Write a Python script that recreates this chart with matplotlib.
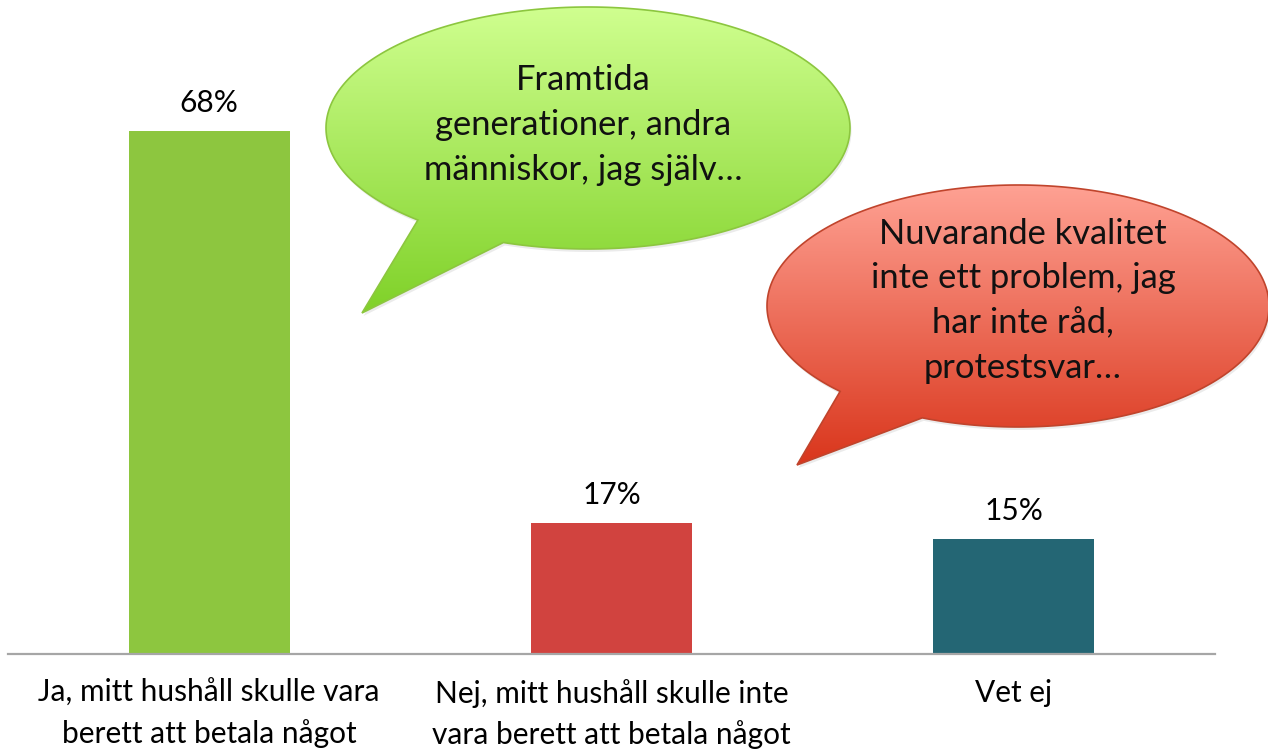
import numpy as np
import matplotlib
matplotlib.use("Agg")
import matplotlib.pyplot as plt
from matplotlib.path import Path
from matplotlib.patches import PathPatch
from matplotlib.colors import LinearSegmentedColormap

# ---- data ----
categories = ["Ja, mitt hushåll skulle vara\nberett att betala något",
              "Nej, mitt hushåll skulle inte\nvara berett att betala något",
              "Vet ej"]
values = [68, 17, 15]
value_labels = ["68%", "17%", "15%"]
bar_colors = ["#8dc63f", "#d1433f", "#246674"]
bubble_green_text = "Framtida\ngenerationer, andra\nmänniskor, jag själv…"
bubble_red_text = "Nuvarande kvalitet\ninte ett problem, jag\nhar inte råd,\nprotestsvar…"

plt.rcParams['font.family'] = ['Lato', 'DejaVu Sans']

W, H = 1268, 751
fig = plt.figure(figsize=(W / 100, H / 100), dpi=100)
fig.patch.set_facecolor("white")

ax = fig.add_axes([8 / W, (H - 654) / H, 1207 / W, 654 / H])
x = np.arange(len(categories))
ax.bar(x, values, width=0.4, color=bar_colors, zorder=2)
ax.set_xlim(-0.5, 2.5)
ax.set_ylim(0, 654 / 7.69)
for xi, v, lab in zip(x, values, value_labels):
    ax.annotate(lab, (xi, v), xytext=(0, 20), textcoords="offset points",
                ha="center", va="center", fontsize=21.5, color="#000000")
ax.set_xticks(x)
ax.set_xticklabels(categories, fontsize=21.5, linespacing=1.5)
ax.tick_params(axis="x", length=0, pad=18)
ax.set_yticks([])
for s in ["top", "right", "left"]:
    ax.spines[s].set_visible(False)
ax.spines["bottom"].set_color("#a6a6a6")
ax.spines["bottom"].set_linewidth(1.6)

# ---- overlay in pixel coordinates for speech bubbles ----
ov = fig.add_axes([0, 0, 1, 1], zorder=5)
ov.set_xlim(0, W)
ov.set_ylim(H, 0)
ov.axis("off")
ov.patch.set_alpha(0)


def bubble(cx, cy, rx, ry, p1, p2, tip, c_top, c_bot, edge):
    a1 = np.arctan2((p1[1] - cy) / ry, (p1[0] - cx) / rx)
    a2 = np.arctan2((p2[1] - cy) / ry, (p2[0] - cx) / rx)
    if a1 < a2:
        a1 += 2 * np.pi
    t = np.linspace(a2, a1, 300)
    pts = np.column_stack([cx + rx * np.cos(t), cy + ry * np.sin(t)])
    pts = np.vstack([pts, [tip], pts[:1]])
    codes = [Path.MOVETO] + [Path.LINETO] * (len(pts) - 2) + [Path.CLOSEPOLY]
    path = Path(pts, codes)
    # soft shadow
    sh = Path(path.vertices + np.array([1.5, 3.0]), path.codes)
    ov.add_patch(PathPatch(sh, facecolor="#000000", alpha=0.08,
                           edgecolor="none", zorder=1))
    patch = PathPatch(path, facecolor="none", edgecolor=edge, lw=1.2, zorder=3)
    ov.add_patch(patch)
    ymin = cy - ry
    ymax = max(tip[1], cy + ry)
    cmap = LinearSegmentedColormap.from_list("g", [c_top, c_bot])
    grad = np.linspace(0, 1, 256).reshape(-1, 1)
    im = ov.imshow(grad, cmap=cmap, aspect="auto",
                   extent=(cx - rx - 2, cx + rx + 2, ymin - 2, ymax + 2),
                   origin="lower", zorder=2)
    im.set_clip_path(PathPatch(path, transform=ov.transData))
    ov.set_xlim(0, W)
    ov.set_ylim(H, 0)


bubble(588, 128, 262, 121, (503, 243), (418, 220), (362, 313),
       "#d0ff90", "#7fd128", "#8cc63f")
bubble(1018, 306, 251, 121, (923, 417), (843, 390), (797, 465),
       "#ffa294", "#d9351b", "#c0442c")

ov.text(583, 125, bubble_green_text, ha="center", va="center",
        fontsize=24.8, linespacing=1.5, color="#111111", zorder=6)
ov.text(1023, 301, bubble_red_text, ha="center", va="center",
        fontsize=24.8, linespacing=1.5, color="#111111", zorder=6)

fig.savefig("out.png", dpi=100, facecolor="white")
